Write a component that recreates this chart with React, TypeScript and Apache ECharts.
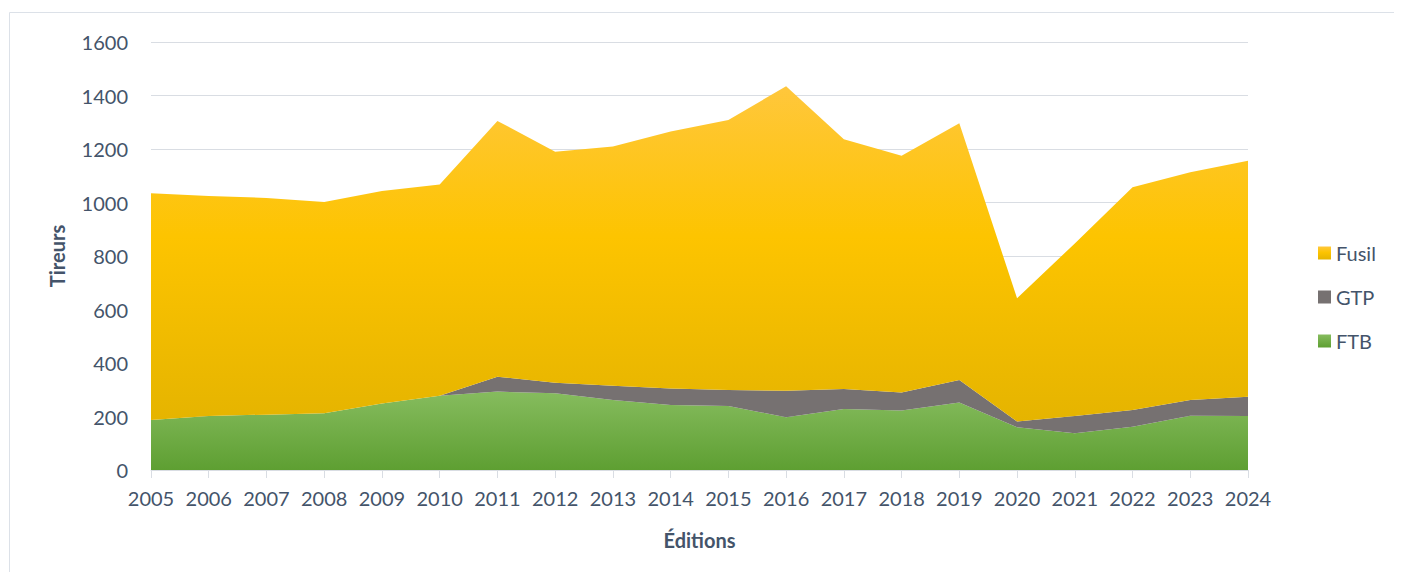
import React, { useEffect, useRef } from "react";
import * as echarts from "echarts";

const years = ["2005","2006","2007","2008","2009","2010","2011","2012","2013","2014","2015","2016","2017","2018","2019","2020","2021","2022","2023","2024"];
const ftb = [187,202,207,212,249,278,293,287,262,243,239,197,228,222,252,160,137,162,203,202];
const gtp = [0,0,0,0,0,0,56,39,53,62,60,99,75,68,84,21,65,62,59,72];
const fusil = [848,822,810,790,794,789,956,864,894,960,1009,1139,933,885,960,461,645,833,851,882];
const yTicks = [0, 200, 400, 600, 800, 1000, 1200, 1400, 1600];

const FONT = "Lato, 'Open Sans', sans-serif";
const TEXT = "#44546A";

export default function App() {
  const ref = useRef<HTMLDivElement>(null);
  useEffect(() => {
    if (!ref.current) return;
    const chart = echarts.init(ref.current, null, { renderer: "svg" });
    const grad = (top: string, mid: string | null, bottom: string) =>
      new echarts.graphic.LinearGradient(0, 0, 0, 1,
        mid ? [{ offset: 0, color: top }, { offset: 0.45, color: mid }, { offset: 1, color: bottom }]
            : [{ offset: 0, color: top }, { offset: 1, color: bottom }]);
    const fusilColor = grad("#FFC73C", "#FDC400", "#E5B400");
    const gtpColor = "#767171";
    const ftbColor = grad("#86BC5E", null, "#5E9F32");
    const mk = (name: string, data: number[], color: any) => ({
      name, type: "line", stack: "total", data, symbol: "none",
      lineStyle: { width: 0 }, areaStyle: { color, opacity: 1 }, itemStyle: { color },
    });
    chart.setOption({
      animation: false,
      textStyle: { fontFamily: FONT },
      graphic: [{
        type: "rect", shape: { x: 1.5, y: 4.5, width: 1500, height: 600 },
        style: { fill: "none", stroke: "#DCE1E8", lineWidth: 1 }, silent: true,
      }],
      grid: { left: 143, right: 146, top: 34, bottom: 102 },
      legend: {
        orient: "vertical", left: 1305, top: 230, itemWidth: 13, itemHeight: 13, itemGap: 24,
        icon: "rect",
        textStyle: { color: TEXT, fontSize: 20, fontFamily: FONT },
        data: ["Fusil", "GTP", "FTB"],
      },
      xAxis: {
        type: "category", data: years, boundaryGap: false,
        name: "Éditions", nameLocation: "middle", nameGap: 60,
        nameTextStyle: { color: TEXT, fontSize: 20, fontWeight: "bold", fontFamily: FONT },
        axisLine: { lineStyle: { color: "#D9DDE3" } },
        axisTick: { show: true, length: 8, interval: 0, lineStyle: { color: "#D9DDE3" } },
        axisLabel: { color: TEXT, fontSize: 20, margin: 18, interval: 0, hideOverlap: false, fontFamily: FONT },
      },
      yAxis: {
        type: "value", min: yTicks[0], max: yTicks[yTicks.length - 1], interval: 200,
        name: "Tireurs", nameLocation: "middle", nameGap: 84, nameRotate: 90,
        nameTextStyle: { color: TEXT, fontSize: 20, fontWeight: "bold", fontFamily: FONT },
        axisLine: { show: false }, axisTick: { show: false },
        axisLabel: { color: TEXT, fontSize: 20, margin: 23, fontFamily: FONT, formatter: (v: number) => String(v) },
        splitLine: { lineStyle: { color: "#D9DDE3", width: 1 } },
      },
      series: [mk("FTB", ftb, ftbColor), mk("GTP", gtp, gtpColor), mk("Fusil", fusil, fusilColor)],
    });
    return () => chart.dispose();
  }, []);
  return <div ref={ref} style={{ width: 1386, height: 564 }} />;
}
